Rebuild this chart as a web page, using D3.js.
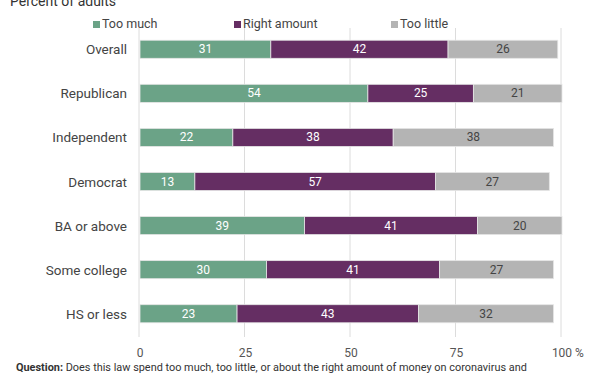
<!DOCTYPE html>
<html><head><meta charset="utf-8">
<script src="https://cdn.jsdelivr.net/npm/d3@7"></script>
<style>body{margin:0;background:#fff}svg{font-family:Roboto,"Noto Sans",sans-serif}</style>
</head><body><svg id="c" width="612" height="374"></svg>
<script>
const categories = ["Overall","Republican","Independent","Democrat","BA or above","Some college","HS or less"];
const seriesNames = ["Too much","Right amount","Too little"];
const tooMuch = [31,54,22,13,39,30,23];
const rightAmount = [42,25,38,57,41,41,43];
const tooLittle = [26,21,38,27,20,27,32];
const ticks = [0,25,50,75,100];
const colors = ["#6ba387","#652e63","#b4b4b4"];
const textColors = ["#fff","#fff","#444"];

const svg = d3.select("#c");
const x = d3.scaleLinear().domain([0,100]).range([140,562]);
const y = d3.scaleBand().domain(categories).range([27,336]).paddingInner(0.59).paddingOuter(0.3);

svg.append("text").attr("x",10).attr("y",6).attr("font-size",14).attr("fill","#333").text("Percent of adults");

// grid
svg.append("g").selectAll("line").data(ticks).join("line")
  .attr("x1",d=>x(d)-1).attr("x2",d=>x(d)-1).attr("y1",28).attr("y2",337)
  .attr("stroke","#dcdcdc").attr("stroke-width",1);

// legend
const legX = [93,234,391];
const lg = svg.append("g").selectAll("g").data(seriesNames).join("g")
  .attr("transform",(d,i)=>`translate(${legX[i]},21)`);
lg.append("rect").attr("width",7).attr("height",7).attr("fill",(d,i)=>colors[i]);
lg.append("text").attr("x",9).attr("y",7).attr("font-size",12.5).attr("fill","#444").text(d=>d);

const rows = categories.map((c,i)=>({cat:c, vals:[tooMuch[i],rightAmount[i],tooLittle[i]]}));
const stacked = d3.stack().keys([0,1,2]).value((d,k)=>d.vals[k])(rows);

stacked.forEach((layer,k)=>{
  const g = svg.append("g");
  g.selectAll("rect").data(layer).join("rect")
    .attr("x",d=>x(d[0])).attr("width",d=>x(d[1])-x(d[0]))
    .attr("y",d=>y(d.data.cat)).attr("height",y.bandwidth())
    .attr("fill",colors[k]).attr("stroke","#e6e6e6").attr("stroke-width",0.8);
  g.selectAll("text").data(layer).join("text")
    .attr("x",d=>(x(d[0])+x(d[1]))/2).attr("y",d=>y(d.data.cat)+y.bandwidth()/2+4)
    .attr("text-anchor","middle").attr("font-size",12).attr("fill",textColors[k])
    .text(d=>d.data.vals[k]);
});

// category labels
svg.append("g").selectAll("text").data(categories).join("text")
  .attr("x",127).attr("y",d=>y(d)+y.bandwidth()/2+5)
  .attr("text-anchor","end").attr("font-size",13.5).attr("fill","#444").text(d=>d);

// x axis labels
svg.append("g").selectAll("text").data(ticks).join("text")
  .attr("x",d=>x(d)).attr("y",357).attr("text-anchor","middle")
  .attr("font-size",12).attr("fill","#555").text(d=>d);
svg.append("text").attr("x",x(100)+13).attr("y",357).attr("font-size",12).attr("fill","#555").text("%");

// footer
const ft = svg.append("text").attr("x",16).attr("y",371).attr("font-size",10.9).attr("fill","#333");
ft.append("tspan").attr("font-weight","bold").text("Question:");
ft.append("tspan").text(" Does this law spend too much, too little, or about the right amount of money on coronavirus and");
</script></body></html>
